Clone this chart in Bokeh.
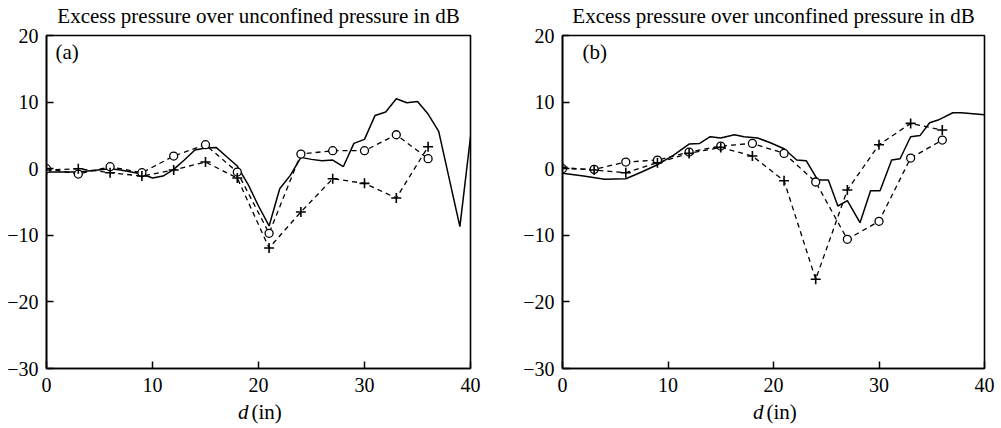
from bokeh.plotting import figure
from bokeh.models import FixedTicker, CustomJSTickFormatter, Label, Range1d
from bokeh.layouts import row
from bokeh.embed import file_html
from bokeh.resources import INLINE

FONT = "Liberation Serif"

# ---------------- data ----------------
title_text = "Excess pressure over unconfined pressure in dB"
x_ticks = [0, 10, 20, 30, 40]
y_ticks = [-30, -20, -10, 0, 10, 20]

# measured positions (in)
d_meas = [0, 3, 6, 9, 12, 15, 18, 21, 24, 27, 30, 33, 36]

# panel (a)
a_circle = [0.0, -0.8, 0.3, -0.6, 1.9, 3.6, -0.5, -9.7, 2.2, 2.7, 2.7, 5.1, 1.5]
a_plus = [-0.2, 0.0, -0.6, -1.1, -0.2, 1.0, -1.4, -11.9, -6.5, -1.5, -2.2, -4.4, 3.3]
a_theory_x = [0, 3, 6, 7, 9, 10, 11, 12, 13, 14, 15, 16, 17, 18, 19, 20, 21, 22, 23,
              24, 25, 26, 27, 28, 29, 30, 31, 32, 33, 34, 35, 36, 37, 39, 40]
a_theory_y = [-0.5, -0.5, 0.0, -0.2, -0.8, -1.4, -1.1, -0.1, 1.3, 2.8, 3.1, 3.2, 1.8, 0.4,
              -2.3, -5.6, -8.6, -3.0, -1.0, 1.7, 1.4, 1.2, 1.3, 0.3, 3.8, 4.4, 8.0, 8.5,
              10.5, 9.9, 10.1, 8.2, 5.6, -8.7, 4.8]

# panel (b)
b_circle = [0.0, -0.1, 1.0, 1.3, 2.5, 3.4, 3.8, 2.3, -2.0, -10.6, -7.9, 1.6, 4.3]
b_plus = [0.2, -0.2, -0.6, 0.9, 2.3, 3.2, 1.9, -1.8, -16.6, -3.2, 3.6, 6.8, 5.8]
b_theory_x = [0, 2, 4, 6, 7.5, 9, 10.5, 12, 13, 14, 15, 16.3, 17.2, 18.5, 19.7, 21,
              22.2, 23.1, 24.2, 25.2, 26.1, 27, 28.2, 29.2, 30.1, 31.2, 32, 33, 33.9,
              34.8, 35.6, 37, 37.8, 40]
b_theory_y = [-0.7, -1.1, -1.6, -1.5, -0.5, 0.6, 2.0, 3.7, 3.8, 4.8, 4.6, 5.1, 4.8, 4.6,
              3.9, 3.0, 1.3, 1.2, -1.7, -1.7, -5.6, -4.8, -8.1, -3.3, -3.3, 1.3, 1.5,
              4.8, 5.0, 6.9, 7.3, 8.4, 8.4, 8.1]


def make_panel(tag, tx, ty, circ, plus, left, right, frame_w, frame_h, top, bottom, tag_dx):
    p = figure(frame_width=frame_w, frame_height=frame_h,
               x_range=Range1d(0, 40), y_range=Range1d(-30, 20),
               output_backend="svg", toolbar_location=None,
               min_border_left=left, min_border_right=right,
               min_border_top=top, min_border_bottom=bottom)
    p.grid.visible = False
    p.background_fill_color = "white"
    p.border_fill_color = "white"
    p.outline_line_color = "black"
    p.outline_line_width = 1.6
    p.outline_line_alpha = 1.0

    p.xaxis.ticker = FixedTicker(ticks=x_ticks)
    p.yaxis.ticker = FixedTicker(ticks=y_ticks)
    p.yaxis.formatter = CustomJSTickFormatter(
        code="return tick < 0 ? '\\u2212' + Math.abs(tick) : String(tick);")
    for ax in (p.xaxis, p.yaxis):
        ax.axis_line_color = "black"
        ax.axis_line_width = 1.6
        ax.major_tick_in = 7
        ax.major_tick_out = 0
        ax.major_tick_line_width = 1.5
        ax.major_tick_line_color = "black"
        ax.minor_tick_line_color = None
        ax.major_label_text_font = FONT
        ax.major_label_text_font_size = "20px"
        ax.major_label_text_color = "black"
    p.yaxis.major_label_standoff = 8
    p.xaxis.major_label_standoff = 9

    # measured series: dashed lines through markers
    p.line(d_meas, circ, line_color="black", line_width=1.3, line_dash="5 4")
    p.line(d_meas, plus, line_color="black", line_width=1.3, line_dash="5 4")
    # theory: solid
    p.line(tx, ty, line_color="black", line_width=1.5)
    p.scatter(d_meas, circ, marker="circle", size=8, fill_color="white",
              line_color="black", line_width=1.3)
    p.scatter(d_meas, plus, marker="cross", size=10, line_color="black", line_width=1.6)

    # title (kept in a side panel so it is not clipped to the frame)
    p.add_layout(Label(x=20, y=20, y_offset=20, text=title_text, text_align="center",
                       text_baseline="alphabetic", text_font=FONT, text_font_size="21px",
                       text_color="black"), "above")
    # panel tag
    p.add_layout(Label(x=0, y=20, x_offset=tag_dx, y_offset=-16, text=tag,
                       text_align="left", text_baseline="alphabetic", text_font=FONT,
                       text_font_size="21px", text_color="black"))
    # x label: italic d + (in), placed in the panel below the frame
    p.add_layout(Label(x=20, y=-30, x_offset=-10, y_offset=-43, text="d",
                       text_align="right", text_baseline="alphabetic", text_font=FONT,
                       text_font_style="italic", text_font_size="21px",
                       text_color="black"), "below")
    p.add_layout(Label(x=20, y=-30, x_offset=-7, y_offset=-43, text="(in)",
                       text_align="left", text_baseline="alphabetic", text_font=FONT,
                       text_font_size="21px", text_color="black"), "below")
    return p


pa = make_panel("(a)", a_theory_x, a_theory_y, a_circle, a_plus,
                left=46, right=46, frame_w=424, frame_h=333, top=35, bottom=59, tag_dx=9)
pb = make_panel("(b)", b_theory_x, b_theory_y, b_circle, b_plus,
                left=46, right=16, frame_w=422, frame_h=333, top=35, bottom=59, tag_dx=20)

layout = row(pa, pb)
open("out.html", "w").write(file_html(layout, INLINE))
